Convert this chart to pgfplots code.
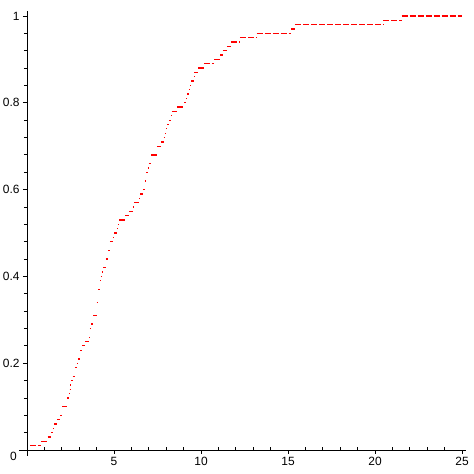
\documentclass[border=0pt]{standalone}
\usepackage{fontspec}
\setmainfont{Liberation Sans}
\usepackage{pgfplots}
\pgfplotsset{compat=1.18}
\begin{document}
\begin{tikzpicture}
\path[use as bounding box] (0,0) rectangle (474bp,474bp);
\begin{axis}[
  x=17.4bp, y=434bp,
  anchor=origin, at={(27bp,24bp)},
  xmin=-0.45, xmax=25.25, ymin=-0.013, ymax=1.012,
  axis lines=middle,
  axis line style={-, line width=0.8bp, black},
  xtick={0,5,10,15,20,25}, xticklabels={,5,10,15,20,25},
  ytick={0,0.2,0.4,0.6,0.8,1}, yticklabels={,0.2,0.4,0.6,0.8,1},
  minor x tick num=4, minor y tick num=4,
  tick align=outside,
  major tick length=4bp, minor tick length=3bp,
  tick style={black, line width=0.8bp},
  minor x tick style={yshift=3bp},
  ticklabel style={font=\fontsize{12}{14}\selectfont},
  /pgf/number format/assume math mode=true,
  clip=false,
]
\addplot[red, line width=1.3bp, dash pattern=on 6bp off 2bp, jump mark left, mark=none] coordinates {
(0.17,0.01) (0.80,0.02) (1.18,0.03) (1.40,0.04) (1.48,0.05) (1.58,0.06)
(1.73,0.07) (1.90,0.08) (2.04,0.10) (2.30,0.12) (2.42,0.13) (2.45,0.14)
(2.48,0.15) (2.52,0.16) (2.62,0.17) (2.75,0.19) (2.86,0.20) (2.92,0.21)
(3.05,0.23) (3.18,0.24) (3.33,0.25) (3.58,0.26) (3.62,0.28) (3.68,0.29)
(3.80,0.31) (4.00,0.34) (4.10,0.37) (4.20,0.39) (4.25,0.40) (4.31,0.41)
(4.37,0.42) (4.54,0.44) (4.66,0.46) (4.77,0.48) (4.94,0.49) (5.00,0.50)
(5.20,0.51) (5.24,0.52) (5.29,0.53) (5.66,0.54) (5.86,0.55) (6.09,0.56)
(6.15,0.57) (6.44,0.58) (6.52,0.59) (6.67,0.60) (6.78,0.62) (6.84,0.64)
(6.95,0.65) (7.01,0.66) (7.13,0.68) (7.47,0.70) (7.70,0.71) (7.87,0.72)
(7.92,0.73) (7.99,0.74) (8.05,0.75) (8.16,0.76) (8.28,0.77) (8.32,0.78)
(8.62,0.79) (9.05,0.80) (9.14,0.81) (9.22,0.82) (9.31,0.83) (9.37,0.84)
(9.43,0.85) (9.60,0.86) (9.62,0.87) (9.83,0.88) (10.17,0.89) (10.75,0.90)
(11.12,0.91) (11.26,0.92) (11.49,0.93) (11.72,0.94) (12.24,0.95) (13.20,0.96)
(15.20,0.97) (15.40,0.98) (20.48,0.99) (21.53,1.00) (25.00,1.00)
};
\node[font=\fontsize{12}{14}\selectfont, inner sep=0pt] at (axis cs:0,0) [xshift=-13.5bp, yshift=-6bp] {0};
\end{axis}
\end{tikzpicture}
\end{document}
